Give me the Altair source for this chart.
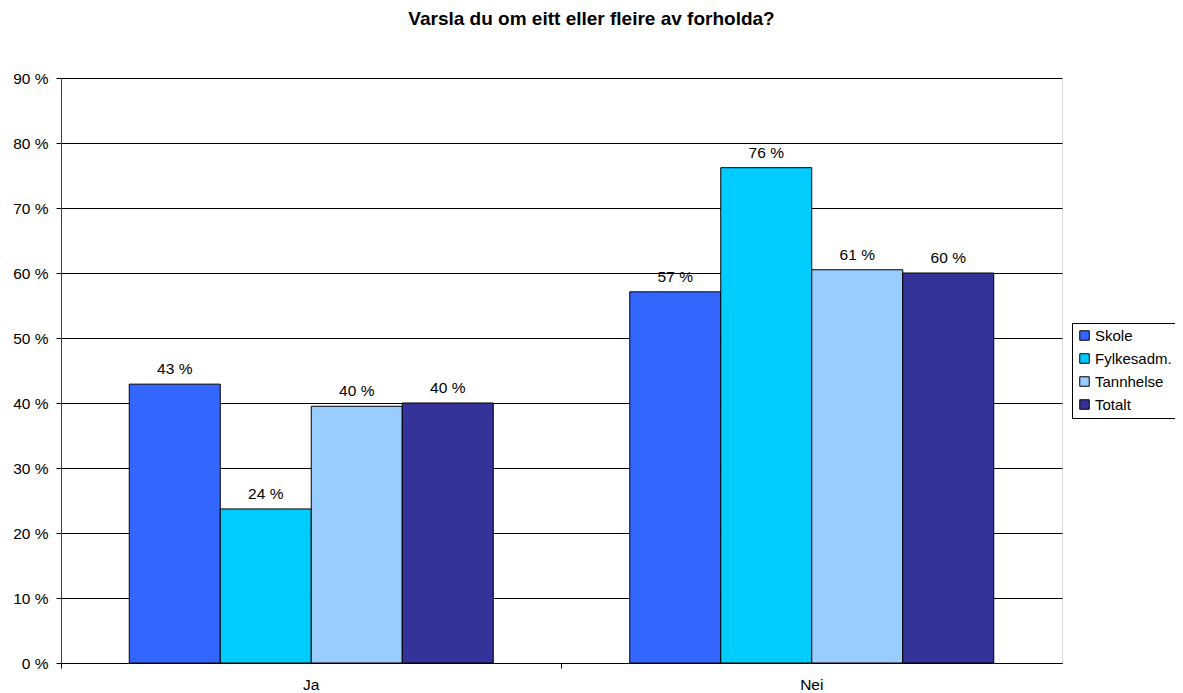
import altair as alt
import pandas as pd

categories = ["Ja", "Nei"]
series = ["Skole", "Fylkesadm.", "Tannhelse", "Totalt"]
colors = ["#3366FF", "#00CCFF", "#99CCFF", "#333399"]
values = {
    "Skole": [42.9, 57.1],
    "Fylkesadm.": [23.7, 76.2],
    "Tannhelse": [39.5, 60.5],
    "Totalt": [40.0, 60.0],
}
labels = {
    "Skole": ["43 %", "57 %"],
    "Fylkesadm.": ["24 %", "76 %"],
    "Tannhelse": ["40 %", "61 %"],
    "Totalt": ["40 %", "60 %"],
}

rows = []
for s in series:
    for i, c in enumerate(categories):
        rows.append({"cat": c, "serie": s, "value": values[s][i], "label": labels[s][i]})
df = pd.DataFrame(rows)

FONT = "Liberation Sans"

x = alt.X("cat:N", sort=categories, title=None,
          scale=alt.Scale(paddingInner=0, paddingOuter=0),
          axis=alt.Axis(labelAngle=0, bandPosition=0, tickSize=5, tickColor="#000000",
                        domainColor="#000000", labelFontSize=15.5, labelColor="#000000",
                        labelPadding=9, labelFont=FONT))
xo = alt.XOffset("serie:N", sort=series,
                 scale=alt.Scale(paddingInner=0, paddingOuter=0.75))
y = alt.Y("value:Q", title=None,
          scale=alt.Scale(domain=[0, 90], nice=False),
          axis=alt.Axis(values=list(range(0, 100, 10)), labelExpr="datum.value + ' %'",
                        gridColor="#000000", gridWidth=1, tickSize=5, tickColor="#000000",
                        domainColor="#404040", labelFontSize=15.5, labelColor="#000000",
                        labelPadding=8, labelFont=FONT))

bars = alt.Chart(df).mark_bar(stroke="#000000", strokeWidth=1).encode(
    x=x, xOffset=xo, y=y,
    color=alt.Color("serie:N", sort=series,
                    scale=alt.Scale(domain=series, range=colors),
                    legend=alt.Legend(title=None, orient="none", legendX=1011, legendY=245,
                                      strokeColor="#000000", padding=5, labelFontSize=15,
                                      labelFont=FONT, labelColor="#000000",
                                      symbolType="square", symbolSize=90,
                                      symbolStrokeColor="#000000", symbolStrokeWidth=1,
                                      symbolOpacity=1, rowPadding=7, labelOffset=3)),
)

text = alt.Chart(df).mark_text(baseline="bottom", dy=-7, fontSize=15.5, font=FONT,
                               color="#000000").encode(
    x=alt.X("cat:N", sort=categories), xOffset=alt.XOffset("serie:N", sort=series), y="value:Q",
    text="label:N",
)

chart = alt.layer(bars, text).properties(
    width=1001, height=585,
    autosize=alt.AutoSizeParams(type="none"),
    padding={"left": 53, "top": 70, "right": 113, "bottom": 30},
    title=alt.TitleParams("Varsla du om eitt eller fleire av forholda?", fontSize=19,
                          font=FONT, fontWeight="bold", color="#000000",
                          anchor="middle", dx=30, offset=42),
).configure_view(stroke="#808080", strokeWidth=1).configure(background="#ffffff")

chart.save("out.html", embed_options={"renderer": "svg", "actions": False})
